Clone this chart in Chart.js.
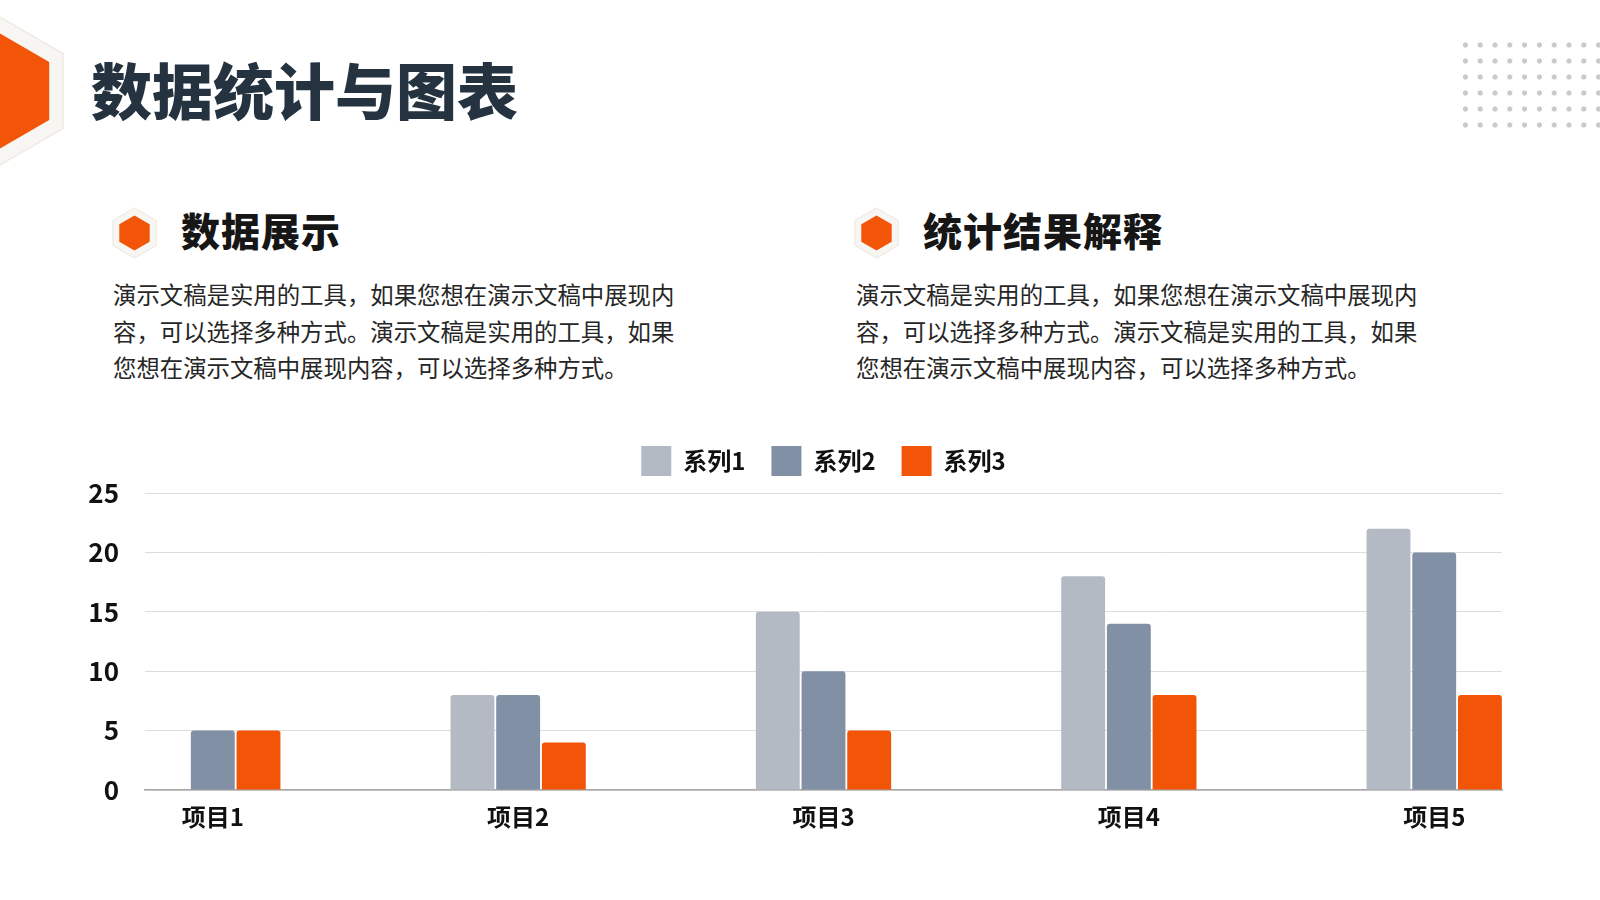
<!DOCTYPE html>
<html lang="zh-CN">
<head>
  <meta charset="UTF-8">
  <title>数据统计与图表</title>
  <script src="https://cdn.jsdelivr.net/npm/chart.js@4.4.0/dist/chart.umd.min.js"></script>
  <style>
    html, body { margin: 0; padding: 0; background: #fff; }
    body { width: 1600px; height: 900px; position: relative; overflow: hidden;
           font-family: "Noto Sans CJK SC", "Noto Sans", sans-serif; }
    .abs { position: absolute; }
    #title { left: 91px; top: 58px; font-size: 61px; line-height: 61px; font-weight: 900; color: #253341; white-space: nowrap; }
    .head { font-size: 39px; line-height: 39px; font-weight: 900; color: #161616; white-space: nowrap; top: 210px; letter-spacing: 1px; }
    .para { font-size: 23.4px; line-height: 36.7px; color: #262626; white-space: nowrap; top: 276px; }
    #dots { left: 1458px; top: 37px; width: 148px; height: 96px;
            background-image: radial-gradient(circle, #c9c9c9 2.3px, transparent 2.9px);
            background-size: 14.8px 16px; }
    #chartBox { left: 40px; top: 420px; width: 1560px; height: 430px; }
  </style>
</head>
<body>
  <svg class="abs" style="left:0;top:0" width="1600" height="300">
    <polygon points="-2,16 63,53.5 63,128.5 -2,166 -67,128.5 -67,53.5" fill="#f7f6f2" stroke="#efebe3" stroke-width="1.5"/>
    <polygon points="-1,33 49.2,62 49.2,120 -1,149 -51.2,120 -51.2,62" fill="#f25508"/>
    <polygon points="134.5,208 156.2,220.5 156.2,245.5 134.5,258 112.8,245.5 112.8,220.5" fill="#f7f6f2" stroke="#efebe3" stroke-width="1.2"/>
    <polygon points="134.5,215.5 149.7,224.25 149.7,241.75 134.5,250.5 119.3,241.75 119.3,224.25" fill="#f25508"/>
    <polygon points="876.5,208 898.2,220.5 898.2,245.5 876.5,258 854.8,245.5 854.8,220.5" fill="#f7f6f2" stroke="#efebe3" stroke-width="1.2"/>
    <polygon points="876.5,215.5 891.7,224.25 891.7,241.75 876.5,250.5 861.3,241.75 861.3,224.25" fill="#f25508"/>
  </svg>
  <div id="dots" class="abs"></div>

  <div id="title" class="abs">数据统计与图表</div>

  <div class="abs head" style="left:181px">数据展示</div>
  <div class="abs head" style="left:923px">统计结果解释</div>

  <div class="abs para" style="left:113px">演示文稿是实用的工具，如果您想在演示文稿中展现内<br>容，可以选择多种方式。演示文稿是实用的工具，如果<br>您想在演示文稿中展现内容，可以选择多种方式。</div>
  <div class="abs para" style="left:856px">演示文稿是实用的工具，如果您想在演示文稿中展现内<br>容，可以选择多种方式。演示文稿是实用的工具，如果<br>您想在演示文稿中展现内容，可以选择多种方式。</div>

  <div id="chartBox" class="abs"><canvas id="chart"></canvas></div>

  <script>
    // chart data
    const categories = ["项目1", "项目2", "项目3", "项目4", "项目5"];
    const seriesNames = ["系列1", "系列2", "系列3"];
    const series1 = [0, 8, 15, 18, 22];
    const series2 = [5, 8, 10, 14, 20];
    const series3 = [5, 4, 5, 8, 8];
    const yTicks = [0, 5, 10, 15, 20, 25];

    const colors = ["#b4bac4", "#8190a5", "#f25508"];
    const allSeries = [series1, series2, series3];

    const labelFont = { family: "'Noto Sans CJK SC', sans-serif", weight: 'bold' };

    // stretch the legend a bit so the plot starts lower
    const legendGap = {
      id: 'legendGap',
      beforeInit(chart) {
        const fit = chart.legend.fit;
        chart.legend.fit = function () {
          fit.bind(chart.legend)();
          this.height += 7;
        };
      }
    };

    new Chart(document.getElementById('chart'), {
      type: 'bar',
      data: {
        datasets: allSeries.map((vals, s) => ({
          label: seriesNames[s],
          data: vals.map((v, i) => ({ x: i, y: v })),
          backgroundColor: colors[s],
          borderRadius: { topLeft: 3, topRight: 3 },
          borderSkipped: 'bottom',
          categoryPercentage: 0.449,
          barPercentage: 0.96
        }))
      },
      options: {
        responsive: true,
        maintainAspectRatio: false,
        animation: false,
        layout: { padding: { left: 0, right: 98, top: 0, bottom: 0 } },
        plugins: {
          legend: {
            position: 'top',
            fullSize: false, // centre over the plot area, not the whole canvas
            labels: {
              boxWidth: 30,
              boxHeight: 30,
              padding: 26,
              color: '#111',
              font: { ...labelFont, size: 24 }
            }
          },
          tooltip: { enabled: false }
        },
        scales: {
          x: {
            type: 'linear',
            offset: false,
            min: -0.222,
            max: 4.222,
            afterBuildTicks: axis => { axis.ticks = categories.map((c, i) => ({ value: i })); },
            afterFit: axis => { axis.height = 60; },
            grid: { display: false, drawTicks: false, offset: false },
            border: { display: true, color: '#a8a8a8', width: 1.5 },
            ticks: {
              callback: v => categories[v],
              padding: 12,
              color: '#111',
              maxRotation: 0,
              autoSkip: false,
              font: { ...labelFont, size: 24 }
            }
          },
          y: {
            min: 0,
            max: 25,
            afterBuildTicks: axis => { axis.ticks = yTicks.map(v => ({ value: v })); },
            afterFit: axis => { axis.width = 105; },
            grid: { color: '#dcdcdc', lineWidth: 1, drawTicks: false },
            border: { display: false },
            ticks: {
              padding: 26,
              color: '#111',
              font: { ...labelFont, size: 26 }
            }
          }
        }
      },
      plugins: [legendGap]
    });
  </script>
</body>
</html>
